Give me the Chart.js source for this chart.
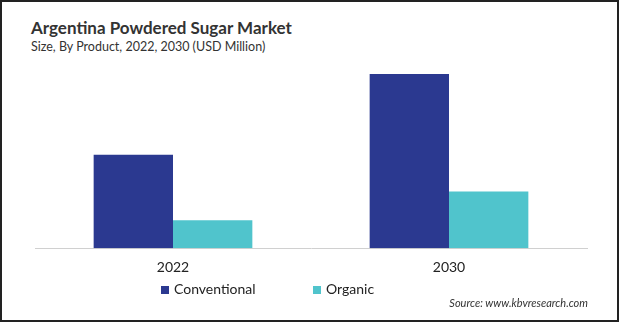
<!DOCTYPE html>
<html>
<head>
<meta charset="utf-8">
<script src="https://cdn.jsdelivr.net/npm/chart.js@4.4.1/dist/chart.umd.min.js"></script>
<style>
  html, body { margin: 0; padding: 0; background: #fff; }
  #frame {
    position: relative; width: 619px; height: 322px; box-sizing: border-box;
    border: 2px solid #222; overflow: hidden; font-family: Lato, "Open Sans", sans-serif;
  }
  #title { position: absolute; left: 29px; top: 15px; font-size: 17px; font-weight: bold; color: #333; }
  #subtitle { position: absolute; left: 29px; top: 37px; font-size: 12.5px; color: #333; }
  #source { position: absolute; right: 29px; top: 294px; font-size: 11px; font-style: italic; color: #333; }
  #wrap { position: absolute; left: 0; top: 72px; width: 615px; height: 213px; }
  #legend { position: absolute; top: 278px; left: 0; width: 615px; font-size: 14px; color: #222; }
  #legend span.item { position: absolute; white-space: nowrap; }
  #legend span.box { display: inline-block; width: 8px; height: 8px; margin-right: 5px; }
</style>
</head>
<body>
<div id="frame">
  <div id="title">Argentina Powdered Sugar Market</div>
  <div id="subtitle">Size, By Product, 2022, 2030 (USD Million)</div>
  <div id="wrap"><canvas id="myChart"></canvas></div>
  <div id="legend"></div>
  <div id="source">Source: www.kbvresearch.com</div>
</div>
<script>
const years = ['2022', '2030'];
const conventional = [47.0, 87.5];
const organic = [14.0, 28.5];

var ctx = document.getElementById('myChart').getContext('2d');
var myChart = new Chart(ctx, {
    type: 'bar',
    data: {
        labels: years,
        datasets: [{
            label: 'Conventional',
            data: conventional,
            backgroundColor: '#2b3990'
        }, {
            label: 'Organic',
            data: organic,
            backgroundColor: '#50c4cc'
        }]
    },
    options: {
        responsive: true,
        maintainAspectRatio: false,
        animation: false,
        layout: { padding: { left: 33, right: 30, top: 0, bottom: 0 } },
        datasets: { bar: { categoryPercentage: 0.575, barPercentage: 1 } },
        plugins: {
            tooltip: { enabled: false },
            legend: { display: false }
        },
        scales: {
            x: {
                grid: { display: false, drawTicks: false },
                border: { color: '#d0d0d0', width: 1 },
                ticks: { color: '#222', padding: 11, font: { family: 'Lato, sans-serif', size: 14 } }
            },
            y: {
                display: false,
                min: 0,
                max: 87.5
            }
        }
    }
});

// legend built from the chart's datasets
var legendX = [159, 311];
var legendEl = document.getElementById('legend');
myChart.data.datasets.forEach((ds, i) => {
    legendEl.innerHTML += `<span class="item" style="left:${legendX[i]}px">
        <span class="box" style="background:${ds.backgroundColor}"></span>${ds.label}</span>`;
});
</script>
</body>
</html>
